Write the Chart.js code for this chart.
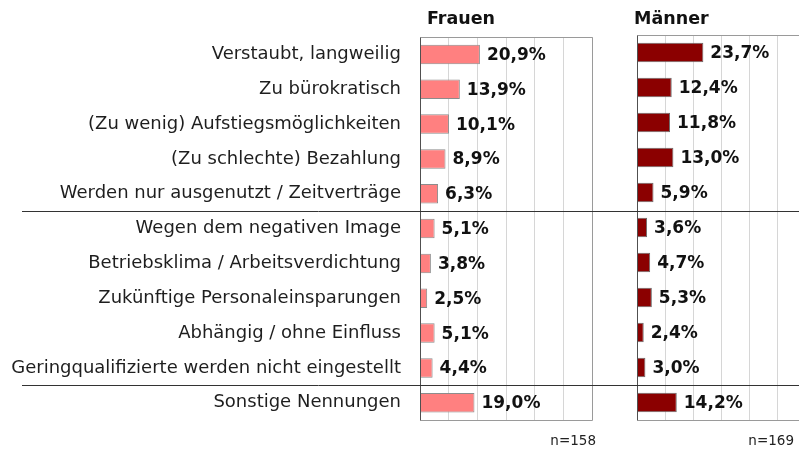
<!DOCTYPE html>
<html><head><meta charset="utf-8">
<script src="https://cdn.jsdelivr.net/npm/chart.js@4"></script>
<style>
html,body{margin:0;padding:0;overflow:hidden;background:#fff;width:799px;height:450px;position:relative}
#c1{position:absolute;left:0;top:0}
#c2{position:absolute;left:615px;top:0}
</style></head><body>
<canvas id="c1" width="615" height="450"></canvas>
<canvas id="c2" width="200" height="450"></canvas>
<script>
const categories = [
  "Verstaubt, langweilig",
  "Zu bürokratisch",
  "(Zu wenig) Aufstiegsmöglichkeiten",
  "(Zu schlechte) Bezahlung",
  "Werden nur ausgenutzt / Zeitverträge",
  "Wegen dem negativen Image",
  "Betriebsklima / Arbeitsverdichtung",
  "Zukünftige Personaleinsparungen",
  "Abhängig / ohne Einfluss",
  "Geringqualifizierte werden nicht eingestellt",
  "Sonstige Nennungen"
];
const frauen = [20.9, 13.9, 10.1, 8.9, 6.3, 5.1, 3.8, 2.5, 5.1, 4.4, 19.0];
const maenner = [23.7, 12.4, 11.8, 13.0, 5.9, 3.6, 4.7, 5.3, 2.4, 3.0, 14.2];
const panelTitles = ["Frauen", "Männer"];
const nLabels = ["n=158", "n=169"];
const separatorsAfter = [4, 9];

const FONT = "'DejaVu Sans', Verdana, sans-serif";
let ch1 = null;

function fmt(v){ return v.toFixed(1).replace('.', ',') + '%'; }

function makePlugin(idx){
  return {
    id: 'deco' + idx,
    afterDraw(chart){
      const ctx = chart.ctx;
      const a = chart.chartArea;
      ctx.save();
      // outline (top, right, bottom)
      ctx.strokeStyle = '#9a9a9a';
      ctx.lineWidth = 1;
      ctx.beginPath();
      const L = Math.round(a.left)+0.5, R = Math.round(a.right)+0.5, T = Math.round(a.top)+0.5, B = Math.round(a.bottom)+0.5;
      ctx.moveTo(L, T); ctx.lineTo(R, T); ctx.lineTo(R, B); ctx.lineTo(L, B);
      ctx.stroke();
      // left axis line
      ctx.strokeStyle = '#505050';
      ctx.beginPath(); ctx.moveTo(L, T); ctx.lineTo(L, B); ctx.stroke();
      // separators
      const ys = (ch1 || chart).scales.y;
      ctx.strokeStyle = '#333';
      separatorsAfter.forEach(i => {
        const y = Math.round((ys.getPixelForValue(i) + ys.getPixelForValue(i+1))/2) + 0.5;
        ctx.beginPath();
        ctx.moveTo(idx === 0 ? 22 : 0, y);
        ctx.lineTo(chart.width, y);
        ctx.stroke();
      });
      // value labels
      const meta = chart.getDatasetMeta(0);
      const data = chart.data.datasets[0].data;
      ctx.fillStyle = '#111';
      ctx.font = "bold 17px " + FONT;
      ctx.textAlign = 'left';
      ctx.textBaseline = 'middle';
      meta.data.forEach((el, i) => {
        ctx.fillText(fmt(data[i]), el.x + 7, el.y + 1);
      });
      // title
      ctx.font = "bold 17.5px " + FONT;
      ctx.textBaseline = 'alphabetic';
      ctx.fillText(panelTitles[idx], idx === 0 ? 427 : 19, 24);
      // n label
      ctx.font = "13.5px " + FONT;
      ctx.fillStyle = '#222';
      ctx.textAlign = 'right';
      ctx.fillText(nLabels[idx], idx === 0 ? 596 : 179, 445);
      ctx.restore();
    }
  };
}

function makeChart(canvas, idx, values, color, border, pad){
  return new Chart(canvas, {
    type: 'bar',
    data: {
      labels: categories,
      datasets: [{
        data: values,
        backgroundColor: color,
        borderColor: border,
        borderWidth: 1,
        barPercentage: 0.56,
        categoryPercentage: 1
      }]
    },
    options: {
      indexAxis: 'y',
      responsive: false,
      animation: false,
      events: [],
      layout: { padding: pad },
      plugins: { legend: { display: false }, tooltip: { enabled: false } },
      scales: {
        x: {
          min: 0, max: 60,
          ticks: { display: false, stepSize: 10 },
          grid: { color: '#d6d6d6', drawTicks: false, tickLength: 0 },
          border: { display: false },
          afterFit(s){ s.height = 0; }
        },
        y: {
          ticks: { display: idx === 0, font: { family: FONT, size: 18 }, color: '#1e1e1e', padding: 19, autoSkip: false },
          grid: { display: false, drawTicks: false },
          border: { display: false },
          afterFit(s){ s.width = idx === 0 ? 420 : 0; }
        }
      }
    },
    plugins: [makePlugin(idx)]
  });
}

ch1 = makeChart(document.getElementById('c1'), 0, frauen, '#ff8080', '#8c8c8c', {left:0, right:23, top:37, bottom:28});
const ch2 = makeChart(document.getElementById('c2'), 1, maenner, '#8b0000', '#6a6a6a', {left:22, right:10, top:35, bottom:30});
</script>
</body></html>
